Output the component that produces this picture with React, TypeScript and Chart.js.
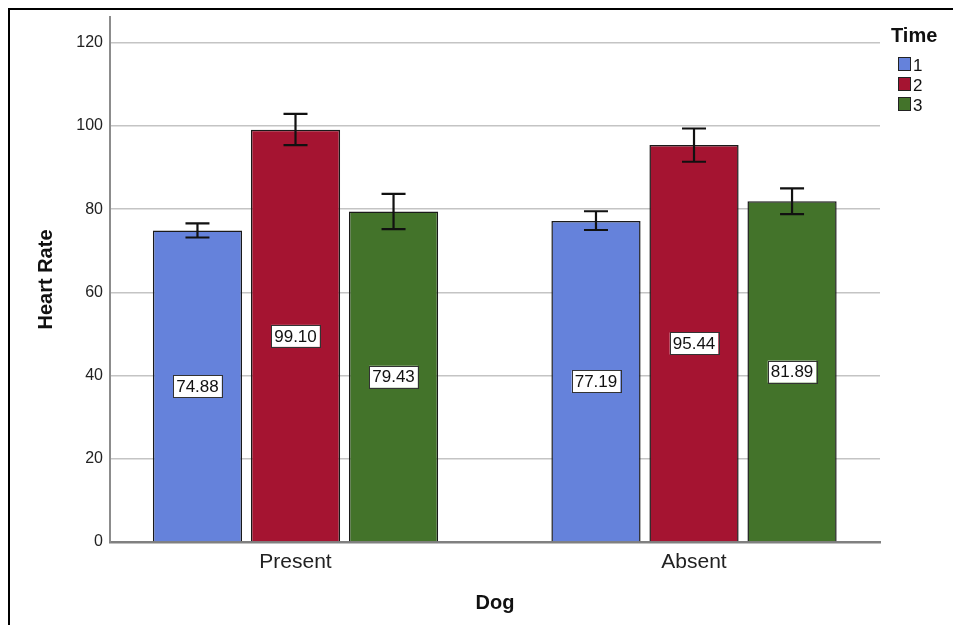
import React, { useEffect, useRef } from "react";
import { Chart, registerables } from "chart.js";

Chart.register(...registerables);

// Grouped means of heart rate by dog presence and time point
const categories = ["Present", "Absent"];
const timeLabels = ["1", "2", "3"];

const time1Means = [74.88, 77.19];
const time2Means = [99.1, 95.44];
const time3Means = [79.43, 81.89];

// Error bar limits (lower / upper) for each time point
const time1Low = [73.2, 75.0];
const time1High = [76.6, 79.5];
const time2Low = [95.4, 91.4];
const time2High = [102.9, 99.4];
const time3Low = [75.2, 78.8];
const time3High = [83.7, 85.0];

const yTicks = [0, 20, 40, 60, 80, 100, 120];

const barColors = ["#6582DB", "#A51431", "#43732A"];
const FONT = "'Liberation Sans', Arial, Helvetica, sans-serif";

const lows = [time1Low, time2Low, time3Low];
const highs = [time1High, time2High, time3High];

const overlayPlugin = {
  id: "overlay",
  afterDatasetsDraw(chart: any) {
    const ctx = chart.ctx as CanvasRenderingContext2D;
    const y = chart.scales.y;
    ctx.save();
    // error bars
    ctx.strokeStyle = "#111";
    ctx.lineWidth = 2.2;
    chart.data.datasets.forEach((_ds: any, d: number) => {
      const meta = chart.getDatasetMeta(d);
      meta.data.forEach((el: any, i: number) => {
        const x = el.x;
        const yl = y.getPixelForValue(lows[d][i]);
        const yh = y.getPixelForValue(highs[d][i]);
        const cap = 12;
        ctx.beginPath();
        ctx.moveTo(x, yl);
        ctx.lineTo(x, yh);
        ctx.moveTo(x - cap, yh);
        ctx.lineTo(x + cap, yh);
        ctx.moveTo(x - cap, yl);
        ctx.lineTo(x + cap, yl);
        ctx.stroke();
      });
    });
    // value labels in white boxes at mid-height of each bar
    ctx.font = `17px ${FONT}`;
    ctx.textAlign = "center";
    ctx.textBaseline = "middle";
    chart.data.datasets.forEach((ds: any, d: number) => {
      const meta = chart.getDatasetMeta(d);
      meta.data.forEach((el: any, i: number) => {
        const v = ds.data[i].y as number;
        const txt = v.toFixed(2);
        const cy = y.getPixelForValue(v / 2);
        const w = ctx.measureText(txt).width + 6;
        const h = 22;
        ctx.fillStyle = "#fff";
        ctx.fillRect(el.x - w / 2, cy - h / 2, w, h);
        ctx.strokeStyle = "#333";
        ctx.lineWidth = 1;
        ctx.strokeRect(Math.round(el.x - w / 2) + 0.5, Math.round(cy - h / 2) + 0.5, Math.round(w), h);
        ctx.fillStyle = "#111";
        ctx.fillText(txt, el.x, cy + 1);
      });
    });
    ctx.restore();
  },
  afterDraw(chart: any) {
    const ctx = chart.ctx as CanvasRenderingContext2D;
    const area = chart.chartArea;
    ctx.save();
    // axis titles
    ctx.fillStyle = "#111";
    ctx.font = `bold 20px ${FONT}`;
    ctx.textAlign = "center";
    ctx.textBaseline = "alphabetic";
    ctx.fillText("Dog", (area.left + area.right) / 2, 609);
    ctx.save();
    ctx.translate(52, (area.top + area.bottom) / 2);
    ctx.rotate(-Math.PI / 2);
    ctx.fillText("Heart Rate", 0, 0);
    ctx.restore();
    // legend
    ctx.textAlign = "left";
    ctx.font = `bold 20px ${FONT}`;
    ctx.fillText("Time", 891, 42);
    ctx.font = `17px ${FONT}`;
    timeLabels.forEach((lab, k) => {
      const top = 57 + k * 20;
      ctx.fillStyle = barColors[k];
      ctx.fillRect(898, top, 13, 14);
      ctx.strokeStyle = "#222";
      ctx.lineWidth = 1;
      ctx.strokeRect(898.5, top + 0.5, 12, 13);
      ctx.fillStyle = "#111";
      ctx.fillText(lab, 913, top + 14);
    });
    // outer frame
    ctx.strokeStyle = "#000";
    ctx.lineWidth = 2;
    ctx.beginPath();
    ctx.moveTo(9, 625);
    ctx.lineTo(9, 9);
    ctx.lineTo(953, 9);
    ctx.stroke();
    ctx.restore();
  },
};

export default function App() {
  const ref = useRef<HTMLCanvasElement>(null);

  useEffect(() => {
    document.body.style.margin = "0";
    const canvas = ref.current;
    if (!canvas) return;
    const series = [time1Means, time2Means, time3Means];
    const chart = new Chart(canvas, {
      type: "bar",
      data: {
        datasets: series.map((vals, d) => ({
          label: timeLabels[d],
          data: vals.map((v, i) => ({ x: i, y: v })),
          backgroundColor: barColors[d],
          borderColor: "#1a1a1a",
          borderWidth: 1.5,
          categoryPercentage: 0.738,
          barPercentage: 0.91,
        })),
      },
      options: {
        animation: false,
        responsive: false,
        devicePixelRatio: 1,
        layout: { padding: { left: 0, top: 17, right: 73, bottom: 0 } },
        plugins: { legend: { display: false }, tooltip: { enabled: false } },
        scales: {
          x: {
            type: "linear",
            offset: false,
            min: -0.4655,
            max: 1.4667,
            grid: { display: false, drawTicks: false, offset: false },
            border: { display: true, color: "#808080", width: 2.5 },
            afterBuildTicks: (scale: any) => {
              scale.ticks = categories.map((_c, i) => ({ value: i }));
            },
            afterFit: (scale: any) => {
              scale.height = 83;
            },
            ticks: {
              callback: (v: any) => categories[v as number] ?? "",
              font: { family: FONT, size: 21 },
              color: "#222",
              padding: 8,
              maxRotation: 0,
              autoSkip: false,
            },
          },
          y: {
            type: "linear",
            min: 0,
            max: 126.2,
            grid: { color: "#c4c4c4", lineWidth: 1.5, drawTicks: false },
            border: { display: true, color: "#8c8c8c", width: 2 },
            afterBuildTicks: (scale: any) => {
              scale.ticks = yTicks.map((v) => ({ value: v }));
            },
            afterFit: (scale: any) => {
              scale.width = 110;
            },
            ticks: {
              font: { family: FONT, size: 16 },
              color: "#222",
              padding: 7,
            },
          },
        },
      },
      plugins: [overlayPlugin],
    });
    return () => chart.destroy();
  }, []);

  return (
    <div style={{ width: 953, height: 625, background: "#fff" }}>
      <canvas ref={ref} width={953} height={625} style={{ display: "block" }} />
    </div>
  );
}
